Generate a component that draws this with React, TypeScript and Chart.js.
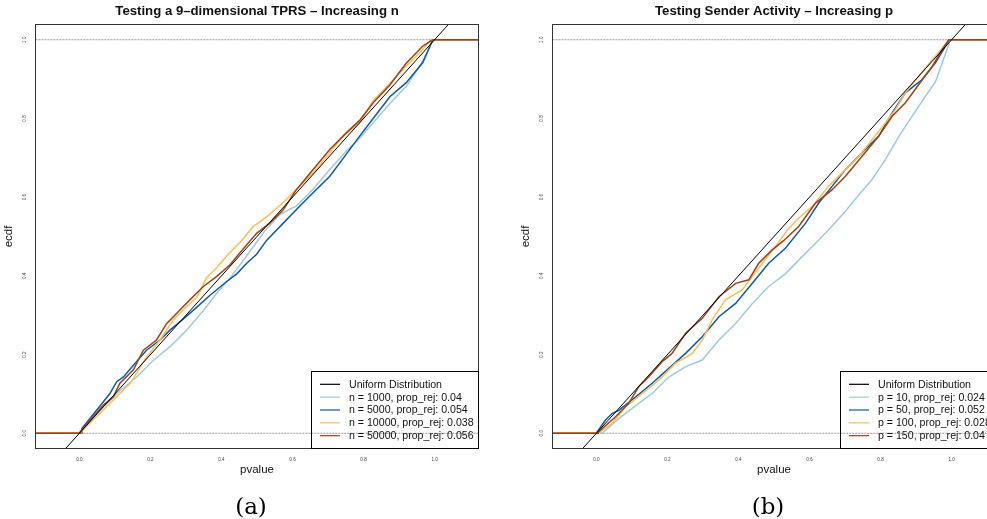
import React, { useEffect, useRef } from 'react';
import { Chart, registerables } from 'chart.js';

Chart.register(...registerables);

const SANS = '"Liberation Sans", Arial, Helvetica, sans-serif';
const SERIF = '"DejaVu Serif", "Liberation Serif", serif';

// ---- axes / labels ----
const xTicks = [0, 0.2, 0.4, 0.6, 0.8, 1.0];
const yTicks = [0, 0.2, 0.4, 0.6, 0.8, 1.0];
const xRange = [-0.125, 1.125];
const yRange = [-0.04, 1.04];
const refLevels = [0, 1];
const uniformLine = [[-0.2, -0.2], [1.2, 1.2]];

const panelTitles = ['Testing a 9\u2013dimensional TPRS \u2013 Increasing n', 'Testing Sender Activity \u2013 Increasing p'];
const panelCaptions = ['(a)', '(b)'];
const uniformLabel = 'Uniform Distribution';
const legendLabelsA = ['n = 1000, prop_rej: 0.04', 'n = 5000, prop_rej: 0.054', 'n = 10000, prop_rej: 0.038', 'n = 50000, prop_rej: 0.056'];
const legendLabelsB = ['p = 10, prop_rej: 0.024', 'p = 50, prop_rej: 0.052', 'p = 100, prop_rej: 0.028', 'p = 150, prop_rej: 0.04'];
const seriesColors = ['#9ecae1', '#0b5aa8', '#fdbd56', '#a3400f'];

// ---- panel (a): ECDF of p-values, [pvalue, ecdf] ----
const n1000 = [[-0.2, 0], [0.002, 0], [0.002, 0.003], [0.035, 0.035], [0.067, 0.066], [0.114, 0.108], [0.161, 0.143], [0.208, 0.185], [0.255, 0.22], [0.302, 0.262], [0.349, 0.312], [0.386, 0.355], [0.427, 0.398], [0.48, 0.462], [0.52, 0.512], [0.564, 0.556], [0.611, 0.578], [0.658, 0.62], [0.705, 0.67], [0.752, 0.718], [0.789, 0.75], [0.827, 0.789], [0.874, 0.838], [0.92, 0.882], [0.958, 0.933], [0.977, 0.965], [0.995, 1.0], [1.2, 1.0]];
const n5000 = [[-0.2, 0], [0.007, 0], [0.007, 0.012], [0.049, 0.059], [0.086, 0.101], [0.105, 0.131], [0.124, 0.143], [0.152, 0.173], [0.189, 0.211], [0.227, 0.237], [0.255, 0.262], [0.292, 0.29], [0.33, 0.32], [0.367, 0.35], [0.414, 0.385], [0.443, 0.405], [0.471, 0.432], [0.499, 0.455], [0.527, 0.49], [0.574, 0.534], [0.62, 0.577], [0.658, 0.611], [0.705, 0.653], [0.752, 0.71], [0.789, 0.755], [0.827, 0.8], [0.874, 0.855], [0.92, 0.891], [0.967, 0.942], [0.995, 1.0], [1.2, 1.0]];
const n10000 = [[-0.2, 0], [0.004, 0], [0.004, 0.003], [0.067, 0.059], [0.114, 0.101], [0.143, 0.127], [0.189, 0.194], [0.227, 0.237], [0.264, 0.288], [0.302, 0.322], [0.33, 0.345], [0.358, 0.395], [0.386, 0.42], [0.414, 0.45], [0.452, 0.485], [0.489, 0.525], [0.527, 0.55], [0.583, 0.594], [0.62, 0.628], [0.658, 0.662], [0.705, 0.713], [0.742, 0.755], [0.789, 0.789], [0.827, 0.845], [0.874, 0.889], [0.92, 0.933], [0.958, 0.967], [0.99, 1.0], [1.2, 1.0]];
const n50000 = [[-0.2, 0], [0.002, 0], [0.002, 0.003], [0.039, 0.042], [0.067, 0.071], [0.096, 0.093], [0.114, 0.127], [0.152, 0.161], [0.18, 0.211], [0.217, 0.237], [0.246, 0.279], [0.283, 0.313], [0.311, 0.339], [0.349, 0.373], [0.386, 0.398], [0.424, 0.428], [0.461, 0.468], [0.499, 0.508], [0.536, 0.534], [0.574, 0.568], [0.611, 0.619], [0.658, 0.67], [0.705, 0.721], [0.752, 0.764], [0.789, 0.795], [0.827, 0.84], [0.874, 0.885], [0.92, 0.94], [0.967, 0.984], [0.995, 1.0], [1.2, 1.0]];

// ---- panel (b) ----
const p10 = [[-0.2, 0], [0.016, 0], [0.063, 0.037], [0.119, 0.076], [0.157, 0.101], [0.204, 0.143], [0.251, 0.169], [0.298, 0.186], [0.345, 0.237], [0.392, 0.279], [0.439, 0.33], [0.485, 0.373], [0.532, 0.405], [0.575, 0.445], [0.617, 0.483], [0.654, 0.517], [0.701, 0.564], [0.739, 0.606], [0.776, 0.645], [0.814, 0.696], [0.852, 0.755], [0.889, 0.806], [0.927, 0.857], [0.955, 0.894], [0.974, 0.942], [0.992, 0.988], [0.994, 1.0], [1.2, 1.0]];
const p50 = [[-0.2, 0], [0.002, 0], [0.002, 0.003], [0.025, 0.033], [0.044, 0.05], [0.063, 0.058], [0.11, 0.092], [0.157, 0.127], [0.204, 0.165], [0.251, 0.203], [0.298, 0.245], [0.345, 0.296], [0.392, 0.33], [0.439, 0.381], [0.485, 0.432], [0.532, 0.47], [0.589, 0.534], [0.626, 0.585], [0.664, 0.628], [0.701, 0.67], [0.748, 0.713], [0.795, 0.755], [0.833, 0.815], [0.87, 0.865], [0.917, 0.899], [0.955, 0.942], [0.983, 0.984], [0.993, 1.0], [1.2, 1.0]];
const p100 = [[-0.2, 0], [0.005, 0], [0.044, 0.025], [0.082, 0.067], [0.129, 0.101], [0.176, 0.135], [0.223, 0.178], [0.27, 0.203], [0.298, 0.237], [0.326, 0.288], [0.363, 0.339], [0.41, 0.364], [0.467, 0.432], [0.504, 0.475], [0.542, 0.521], [0.57, 0.547], [0.608, 0.577], [0.654, 0.628], [0.701, 0.67], [0.739, 0.704], [0.776, 0.746], [0.814, 0.789], [0.842, 0.823], [0.87, 0.865], [0.908, 0.908], [0.946, 0.95], [0.983, 0.988], [0.992, 1.0], [1.2, 1.0]];
const p150 = [[-0.2, 0], [0.005, 0], [0.005, 0.003], [0.054, 0.042], [0.091, 0.076], [0.119, 0.118], [0.147, 0.143], [0.185, 0.182], [0.213, 0.203], [0.251, 0.254], [0.298, 0.292], [0.345, 0.347], [0.392, 0.381], [0.429, 0.39], [0.457, 0.432], [0.495, 0.466], [0.528, 0.49], [0.57, 0.526], [0.617, 0.585], [0.664, 0.619], [0.701, 0.653], [0.748, 0.704], [0.795, 0.755], [0.833, 0.806], [0.87, 0.84], [0.908, 0.887], [0.946, 0.933], [0.974, 0.976], [0.992, 1.0], [1.2, 1.0]];

const panelSeries = [
  [n1000, n5000, n10000, n50000],
  [p10, p50, p100, p150],
];
const panelLegends = [legendLabelsA, legendLabelsB];

const toPts = (arr: number[][]) => arr.map(([x, y]) => ({ x, y }));

const decorPlugin = {
  id: 'decor',
  afterDraw(chart: any, _args: any, opts: any) {
    const { ctx, chartArea: a, scales } = chart;
    const ys = scales.y;
    ctx.save();
    // frame
    ctx.strokeStyle = '#333';
    ctx.lineWidth = 1;
    ctx.setLineDash([]);
    ctx.strokeRect(Math.round(a.left) + 0.5, Math.round(a.top) + 0.5, Math.round(a.right - a.left) - 1, Math.round(a.bottom - a.top) - 1);
    // y tick labels (rotated, R style)
    ctx.fillStyle = '#444';
    ctx.font = `4.6px ${SANS}`;
    ctx.textAlign = 'center';
    ctx.textBaseline = 'middle';
    for (const v of yTicks) {
      const py = ys.getPixelForValue(v);
      ctx.save();
      ctx.translate(a.left - 10, py);
      ctx.rotate(-Math.PI / 2);
      ctx.fillText(v.toFixed(1), 0, 0);
      ctx.restore();
    }
    // main title
    ctx.fillStyle = '#111';
    ctx.font = `bold 13.2px ${SANS}`;
    ctx.fillText(opts.title, (a.left + a.right) / 2, 11);
    // caption
    ctx.fillStyle = '#000';
    ctx.font = `23px ${SERIF}`;
    ctx.textBaseline = 'alphabetic';
    ctx.fillText(opts.caption, (a.left + a.right) / 2 - 6, 514);
    // legend
    ctx.textBaseline = 'middle';
    ctx.font = `10.6px ${SANS}`;
    const items = opts.legend as { label: string; color: string }[];
    const maxW = Math.max(...items.map((it) => ctx.measureText(it.label).width));
    const boxW = Math.round(38 + maxW + 5);
    const boxH = 78;
    const bx = Math.round(a.right - boxW);
    const by = Math.round(a.bottom - boxH);
    ctx.strokeStyle = '#000';
    ctx.lineWidth = 1;
    ctx.strokeRect(bx + 0.5, by + 0.5, boxW - 1, boxH - 1);
    ctx.textAlign = 'left';
    items.forEach((it, i) => {
      const ry = by + 13.3 + i * 12.85;
      ctx.strokeStyle = it.color;
      ctx.lineWidth = 1.2;
      ctx.beginPath();
      ctx.moveTo(bx + 9, ry);
      ctx.lineTo(bx + 29, ry);
      ctx.stroke();
      ctx.fillStyle = '#111';
      ctx.fillText(it.label, bx + 38, ry + 0.5);
    });
    ctx.restore();
  },
};

function makeConfig(idx: number): any {
  const series = panelSeries[idx];
  const labels = panelLegends[idx];
  const datasets: any[] = [];
  refLevels.forEach((lv) => {
    datasets.push({
      label: 'ref' + lv,
      data: toPts([[-0.2, lv], [1.2, lv]]),
      borderColor: '#9a9a9a',
      borderWidth: 1,
      borderDash: [2, 1],
      pointRadius: 0,
      order: 10,
    });
  });
  series.forEach((s, i) => {
    datasets.push({
      label: labels[i],
      data: toPts(s),
      borderColor: seriesColors[i],
      borderWidth: 1.5,
      pointRadius: 0,
      tension: 0,
      order: 6 - i,
    });
  });
  datasets.push({
    label: uniformLabel,
    data: toPts(uniformLine),
    borderColor: '#000',
    borderWidth: 1,
    pointRadius: 0,
    order: 1,
  });
  const legendItems = [{ label: uniformLabel, color: '#000' }].concat(
    labels.map((l, i) => ({ label: l, color: seriesColors[i] }))
  );
  return {
    type: 'line',
    data: { datasets },
    options: {
      animation: false,
      responsive: false,
      maintainAspectRatio: false,
      devicePixelRatio: 1,
      events: [],
      layout: { padding: { left: 0, top: 24, right: 14, bottom: 0 } },
      plugins: {
        legend: { display: false },
        tooltip: { enabled: false },
        title: { display: false },
        decor: { title: panelTitles[idx], caption: panelCaptions[idx], legend: legendItems },
      },
      scales: {
        x: {
          type: 'linear',
          min: xRange[0],
          max: xRange[1],
          grid: { display: false, drawTicks: false },
          border: { display: false },
          afterBuildTicks: (s: any) => {
            s.ticks = xTicks.map((v) => ({ value: v }));
          },
          afterFit: (s: any) => {
            s.height = 70;
          },
          ticks: {
            font: { size: 4.6, family: SANS },
            color: '#444',
            padding: 8,
            maxRotation: 0,
            minRotation: 0,
            autoSkip: false,
            callback: (v: any) => Number(v).toFixed(1),
          },
          title: {
            display: true,
            text: 'pvalue',
            color: '#111',
            font: { size: 11.5, family: SANS },
            padding: { top: 0, bottom: 42 },
          },
        },
        y: {
          type: 'linear',
          min: yRange[0],
          max: yRange[1],
          grid: { display: false, drawTicks: false },
          border: { display: false },
          afterBuildTicks: (s: any) => {
            s.ticks = yTicks.map((v) => ({ value: v }));
          },
          afterFit: (s: any) => {
            s.width = 35;
          },
          ticks: { display: false },
          title: {
            display: true,
            text: 'ecdf',
            color: '#111',
            font: { size: 11.5, family: SANS },
            padding: { top: 2, bottom: 0 },
          },
        },
      },
    },
    plugins: [decorPlugin],
  };
}

function Panel({ idx, left }: { idx: number; left: number }) {
  const ref = useRef<HTMLCanvasElement | null>(null);
  useEffect(() => {
    if (!ref.current) return;
    const chart = new Chart(ref.current, makeConfig(idx));
    return () => chart.destroy();
  }, [idx]);
  return (
    <canvas
      ref={ref}
      width={493}
      height={519}
      style={{ position: 'absolute', left, top: 0, width: 493, height: 519 }}
    />
  );
}

export default function App() {
  return (
    <div
      style={{
        position: 'fixed',
        left: 0,
        top: 0,
        width: 987,
        height: 519,
        overflow: 'hidden',
        background: '#fff',
      }}
    >
      <Panel idx={0} left={0} />
      <Panel idx={1} left={517} />
    </div>
  );
}
